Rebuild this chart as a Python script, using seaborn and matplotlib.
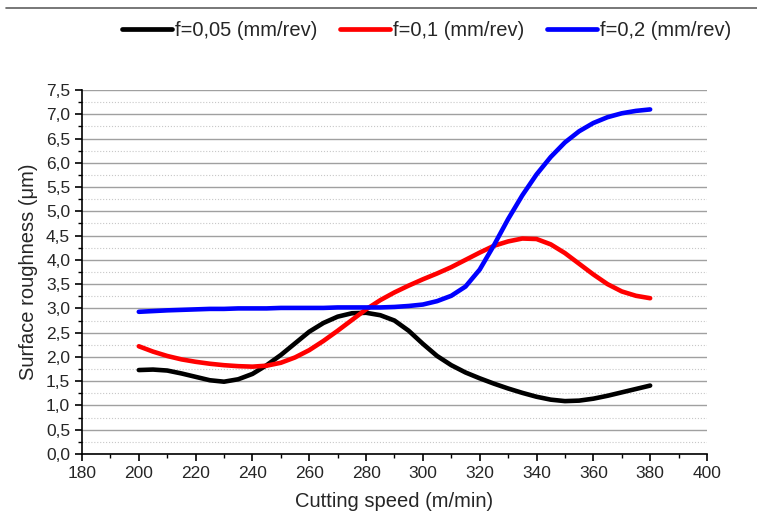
import numpy as np
import pandas as pd
import matplotlib
matplotlib.use('Agg')
import matplotlib.pyplot as plt
import seaborn as sns
from matplotlib.lines import Line2D
from matplotlib.ticker import MultipleLocator, FuncFormatter

# Cutting speed (m/min)
speed = list(range(200, 385, 5))

# Surface roughness (um)
ra_f005 = [1.73, 1.74, 1.72, 1.66, 1.59, 1.52, 1.49, 1.54, 1.65, 1.83,
           2.04, 2.28, 2.52, 2.70, 2.83, 2.90, 2.91, 2.86, 2.75, 2.54,
           2.27, 2.02, 1.83, 1.68, 1.56, 1.45, 1.35, 1.26, 1.18, 1.12,
           1.09, 1.10, 1.14, 1.20, 1.27, 1.34, 1.41]
ra_f01 = [2.22, 2.11, 2.02, 1.95, 1.90, 1.86, 1.83, 1.81, 1.80, 1.82,
          1.88, 1.99, 2.14, 2.33, 2.54, 2.76, 2.98, 3.17, 3.33, 3.47,
          3.60, 3.72, 3.85, 4.00, 4.15, 4.29, 4.38, 4.44, 4.43, 4.32,
          4.14, 3.92, 3.70, 3.50, 3.35, 3.26, 3.21]
ra_f02 = [2.93, 2.945, 2.96, 2.97, 2.98, 2.99, 2.99, 3.00, 3.00, 3.00,
          3.01, 3.01, 3.01, 3.01, 3.02, 3.02, 3.02, 3.02, 3.03, 3.05,
          3.08, 3.15, 3.26, 3.45, 3.80, 4.30, 4.84, 5.33, 5.76, 6.12,
          6.42, 6.65, 6.82, 6.94, 7.02, 7.07, 7.10]

labels = ['f=0,05 (mm/rev)', 'f=0,1 (mm/rev)', 'f=0,2 (mm/rev)']
colors = ['black', 'red', 'blue']

df = pd.concat([
    pd.DataFrame({'speed': speed, 'ra': vals, 'feed': lab})
    for vals, lab in zip([ra_f005, ra_f01, ra_f02], labels)
])

sns.set_style('white')
plt.rcParams['font.family'] = ['Liberation Sans', 'DejaVu Sans']

fig = plt.figure(figsize=(7.57, 5.32), dpi=100)
ax = fig.add_axes([0.1083, 0.1466, 0.8256, 0.6842])

sns.lineplot(data=df, x='speed', y='ra', hue='feed', palette=colors,
             linewidth=3.3, ax=ax, legend=False, solid_capstyle='round',
             solid_joinstyle='round')

ax.set_xlim(180, 400)
ax.set_ylim(0, 7.5)
ax.xaxis.set_major_locator(MultipleLocator(20))
ax.xaxis.set_minor_locator(MultipleLocator(10))
ax.yaxis.set_major_locator(MultipleLocator(0.5))
ax.yaxis.set_minor_locator(MultipleLocator(0.25))
ax.yaxis.set_major_formatter(FuncFormatter(lambda v, p: f'{v:.1f}'.replace('.', ',')))

ax.grid(True, axis='y', which='major', color='#a0a0a0', linewidth=1.0, linestyle='-')
ax.grid(True, axis='y', which='minor', color='#c8c8c8', linewidth=0.8, linestyle=':')
ax.set_axisbelow(True)

for s in ['top', 'right']:
    ax.spines[s].set_visible(False)
for s in ['left', 'bottom']:
    ax.spines[s].set_color('black')
    ax.spines[s].set_linewidth(1.2)

ax.tick_params(which='major', direction='out', length=5, width=1.2,
               labelsize=12.5, left=True, bottom=True, color='black')
ax.tick_params(which='minor', direction='out', length=3, width=1.0,
               left=True, bottom=True, color='black')

ax.set_xlabel('Cutting speed (m/min)', fontsize=14.5, labelpad=8)
ax.set_ylabel('Surface roughness (μm)', fontsize=14.5, labelpad=6)

handles = [Line2D([0], [0], color=c, linewidth=3.4, solid_capstyle='round') for c in colors]
fig.legend(handles, labels, loc='center right', bbox_to_anchor=(0.99, 0.942),
           ncol=3, frameon=False, fontsize=14.5, handlelength=2.5,
           handletextpad=0.15, columnspacing=1.1)

fig.add_artist(Line2D([0.008, 1.0], [0.985, 0.985], color='#606060', linewidth=1.2,
                      transform=fig.transFigure))

fig.savefig('out.png', dpi=100)
